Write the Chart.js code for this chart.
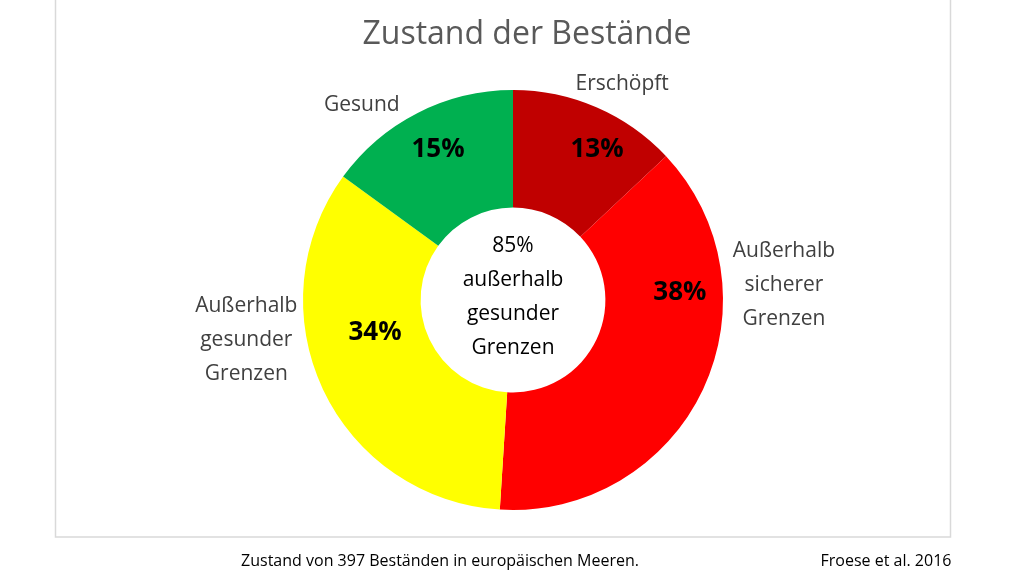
<!DOCTYPE html>
<html><head><meta charset="utf-8">
<script src="https://cdn.jsdelivr.net/npm/chart.js"></script>
<style>html,body{margin:0;padding:0;background:#fff}#c{display:block}</style>
</head><body>
<div style="width:1024px;height:576px"><canvas id="c" width="1024" height="576"></canvas></div>
<script>
const categories = ["Erschöpft", "Außerhalb\nsicherer\nGrenzen", "Außerhalb\ngesunder\nGrenzen", "Gesund"];
const values = [13, 38, 34, 15];
const colors = ["#C00000", "#FF0000", "#FFFF00", "#00B050"];
const titleText = "Zustand der Bestände";
const centerText = ["85%", "außerhalb", "gesunder", "Grenzen"];
const captionLeft = "Zustand von 397 Beständen in europäischen Meeren.";
const captionRight = "Froese et al. 2016";

// label placement (dx, dy relative to center, in units of outer radius)
const labelPos = [[0.52,-1.03],[1.29,-0.07],[-1.27,0.19],[-0.72,-0.93]];
const pctPos = [[0.40,-0.714],[0.795,-0.033],[-0.657,0.157],[-0.357,-0.714]];

const deco = {
  id:'deco',
  beforeDraw(chart){
    const ctx=chart.ctx;
    ctx.save();
    ctx.fillStyle='#fff';ctx.fillRect(0,0,1024,576);
    ctx.strokeStyle='#d9d9d9';ctx.lineWidth=1.5;
    ctx.strokeRect(55.5,-2,895,539);
    ctx.restore();
  },
  afterDraw(chart){
    const ctx=chart.ctx;
    const meta=chart.getDatasetMeta(0);
    const a0=meta.data[0];
    const cx=a0.x, cy=a0.y, R=a0.outerRadius;
    ctx.save();
    ctx.textAlign='center';ctx.textBaseline='middle';
    ctx.fillStyle='#595959';ctx.font='32px "Open Sans", Calibri, sans-serif';
    ctx.fillText(titleText,527,35);
    meta.data.forEach((arc,i)=>{
      const q=pctPos[i];
      ctx.fillStyle='#000';ctx.font='bold 26px "Open Sans", sans-serif';
      ctx.fillText(values[i]+'%',cx+q[0]*R,cy+q[1]*R);
      const lines=categories[i].split('\n');
      const p=labelPos[i];
      ctx.fillStyle='#404040';ctx.font='21px "Open Sans", sans-serif';
      lines.forEach((ln,k)=>ctx.fillText(ln,cx+p[0]*R,cy+p[1]*R+(k-(lines.length-1)/2)*34));
    });
    ctx.fillStyle='#000';ctx.font='21px "Open Sans", sans-serif';
    centerText.forEach((ln,k)=>ctx.fillText(ln,cx,cy-54+k*34));
    ctx.font='16px "Open Sans", sans-serif';
    ctx.fillText(captionLeft,440,561);
    ctx.fillText(captionRight,886,561);
    ctx.restore();
  }
};

new Chart(document.getElementById('c'),{
  type:'doughnut',
  data:{labels:categories,datasets:[{data:values,backgroundColor:colors,borderWidth:0}]},
  options:{
    responsive:false,animation:false,cutout:'44%',
    layout:{padding:{top:90,bottom:66,left:303,right:301}},
    plugins:{legend:{display:false},tooltip:{enabled:false}}
  },
  plugins:[deco]
});
</script>
</body></html>
